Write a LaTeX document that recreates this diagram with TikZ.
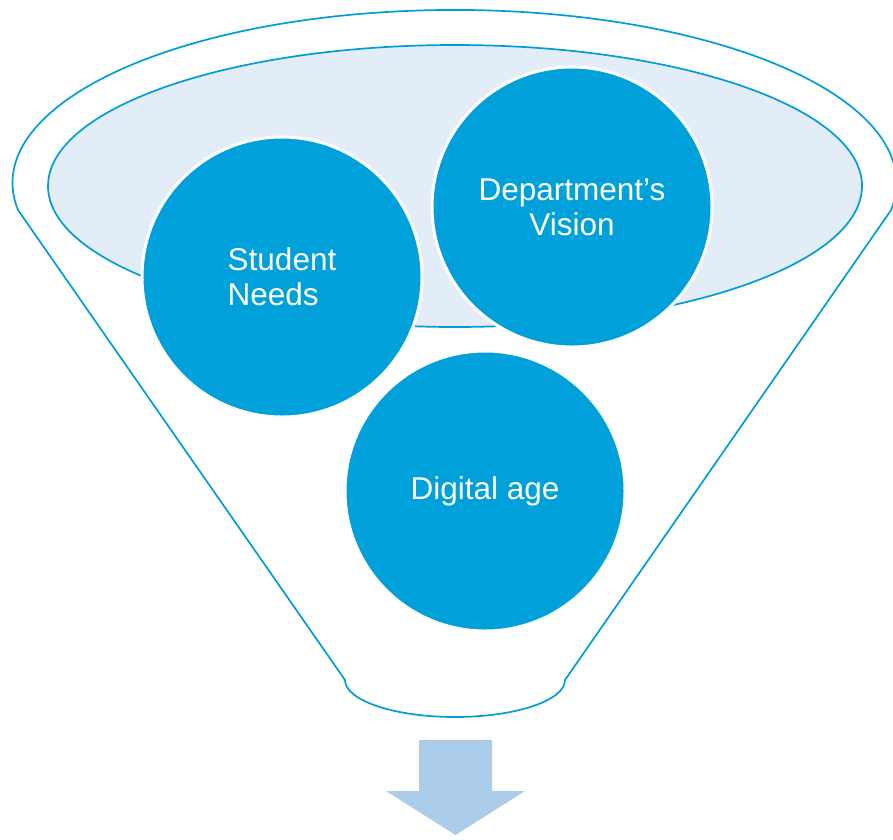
\documentclass[tikz,border=0pt]{standalone}
\usepackage{fontspec}
\setmainfont{Liberation Sans}
\definecolor{cblue}{RGB}{0,160,218}
\definecolor{lineblue}{RGB}{0,158,217}
\definecolor{innerfill}{RGB}{227,237,247}
\definecolor{arrowblue}{RGB}{171,205,234}
\begin{document}
\begin{tikzpicture}[x=1pt,y=-1pt,
  bubble/.style={circle, fill=cblue, draw=white, line width=3pt, minimum size=280pt,
    inner sep=0pt, text=white, font=\fontsize{31.5}{35}\selectfont, align=center},
  funnelline/.style={draw=lineblue, line width=1.7pt, line join=round},
  bigarrow/.style={fill=arrowblue}]
\useasboundingbox (0,0) rectangle (893,839);
\fill[white] (0,0) rectangle (893,839);
% funnel outline
\draw[funnelline, fill=white] (18,210)
  arc[start angle=171, end angle=369, x radius=442, y radius=173]
  -- (565,680)
  arc[start angle=0, end angle=180, x radius=110, y radius=37]
  -- cycle;
% inner mouth
\draw[funnelline, fill=innerfill] (455,186) ellipse[x radius=407, y radius=141];
% bubbles
\node[bubble, align=left] (student) at (282,277) {Student\\Needs};
\node[bubble] (vision) at (572,207) {Department’s\\Vision};
\node[bubble] (digital) at (485,491) {Digital age};
% output arrow
\fill[bigarrow] (419,740) -- (492,740) -- (492,791) -- (525,791) -- (455.5,835)
  -- (386,791) -- (419,791) -- cycle;
\end{tikzpicture}
\end{document}
